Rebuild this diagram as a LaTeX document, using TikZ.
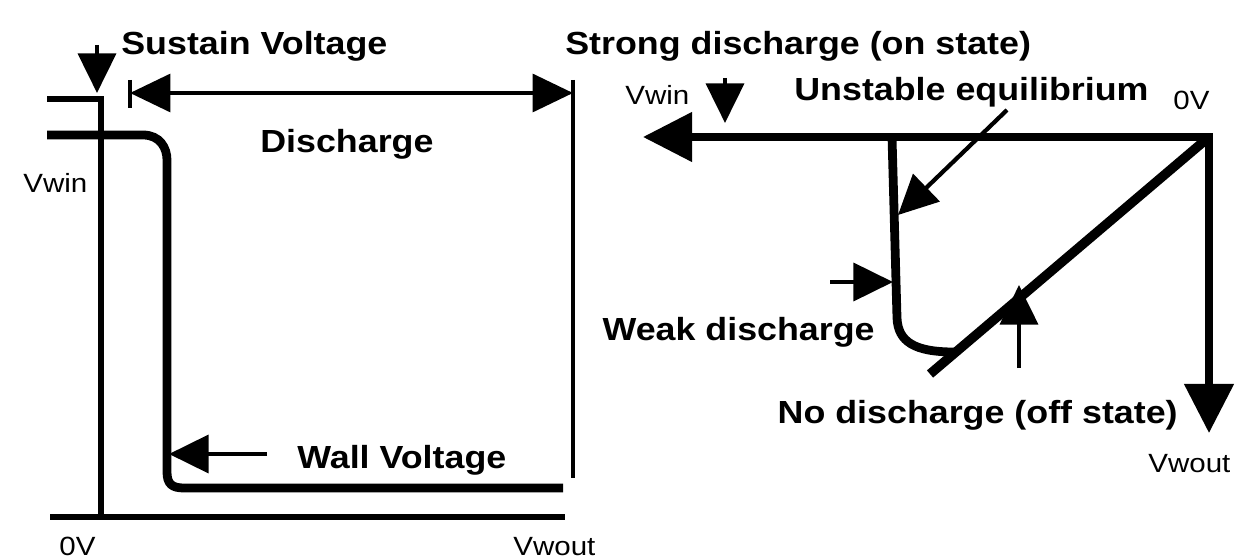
\documentclass[tikz,border=0pt]{standalone}
\usepackage{fontspec}
\setmainfont{Liberation Sans}[FakeStretch=1.12]
\usepackage{tikz}
\usetikzlibrary{arrows.meta, positioning}

\begin{document}
\begin{tikzpicture}[x=0.02cm, y=-0.02cm,
  lbl/.style={font=\fontsize{18.2}{20}\selectfont\bfseries, inner sep=0pt},
  axlbl/.style={font=\fontsize{15}{17}\selectfont, inner sep=0pt},
  axis/.style={line width=3.6pt},
  curve/.style={line width=5pt},
  guide/.style={line width=2.3pt},
  pointer/.style={-{Triangle[length=22.5pt, width=21.5pt]}, line width=2.4pt},
  bigarr/.style={{Triangle[length=28pt, width=27.5pt]}-{Triangle[length=28pt, width=27.5pt]}, line width=4.2pt}
]
\useasboundingbox (0,0) rectangle (1243,560);

% left panel
\coordinate (lStub) at (47,99);
\coordinate (lTop) at (101,99);
\coordinate (lO) at (101,517);
\coordinate (lWin) at (47,135);
\coordinate (lEnd) at (563,488);
\draw[axis] (lStub) -- (lTop) -- (lO);
\draw[axis] (50,517) -- (565,517);
\draw[curve] (lWin) -- (143,135) .. controls (160,135) and (167,148) .. (167,160)
  -- (167,472) .. controls (167,484) and (172,488) .. (184,488) -- (lEnd);
\coordinate (dL) at (130,93);
\coordinate (dR) at (573,93);
\draw[guide] (573,80) -- (573,478);
\draw[guide] (130,80) -- (130,108);
\draw[guide, {Triangle[length=23pt, width=21.5pt]}-{Triangle[length=23pt, width=21.5pt]}] (dL) -- (dR);
\coordinate (susA) at (97,45);
\coordinate (susB) at (97,93);
\draw[pointer] (susA) -- (susB);
\coordinate (wallA) at (267,454);
\coordinate (wallB) at (169,454);
\draw[pointer] (wallA) -- (wallB);

\node[lbl, anchor=base west] (sustain) at (121,55) {Sustain Voltage};
\node[lbl, anchor=base west] (discharge) at (260,153) {Discharge};
\node[lbl, anchor=base west] (wall) at (297,468) {Wall Voltage};
\node[axlbl, anchor=base west] (vwinL) at (23,193) {Vwin};
\node[axlbl, anchor=base west] (zeroL) at (59,555) {0V};
\node[axlbl, anchor=base west] (vwoutL) at (513,555) {Vwout};

% right panel
\coordinate (rO) at (1209,137);
\coordinate (rWin) at (643,137);
\coordinate (rWout) at (1209,433);
\coordinate (rDiag) at (930,374);
\draw[bigarr] (rWin) -- (rO) -- (rWout);
\draw[curve, line width=5.4pt] (rO) -- (rDiag);
\draw[curve] (892,137) -- (897,318) .. controls (898,342) and (915,352) .. (954,352);
\coordinate (strA) at (725,78);
\coordinate (strB) at (725,123);
\draw[pointer] (strA) -- (strB);
\coordinate (unsA) at (1007,110);
\coordinate (unsB) at (898,215);
\draw[pointer] (unsA) -- (unsB);
\coordinate (weakA) at (830,282);
\coordinate (weakB) at (893,282);
\draw[pointer] (weakA) -- (weakB);
\coordinate (offA) at (1019,368);
\coordinate (offB) at (1019,285);
\draw[pointer] (offA) -- (offB);

\node[lbl, anchor=base west] (strong) at (565,55) {Strong discharge (on state)};
\node[lbl, anchor=base west] (unstable) at (794,101) {Unstable equilibrium};
\node[lbl, anchor=base east] (weak) at (875,340) {Weak discharge};
\node[lbl, anchor=base east] (nodis) at (1178,423) {No discharge (off state)};
\node[axlbl, anchor=base west] (vwinR) at (625,105) {Vwin};
\node[axlbl, anchor=base west] (zeroR) at (1173,110) {0V};
\node[axlbl, anchor=base west] (vwoutR) at (1148,472) {Vwout};
\end{tikzpicture}
\end{document}
